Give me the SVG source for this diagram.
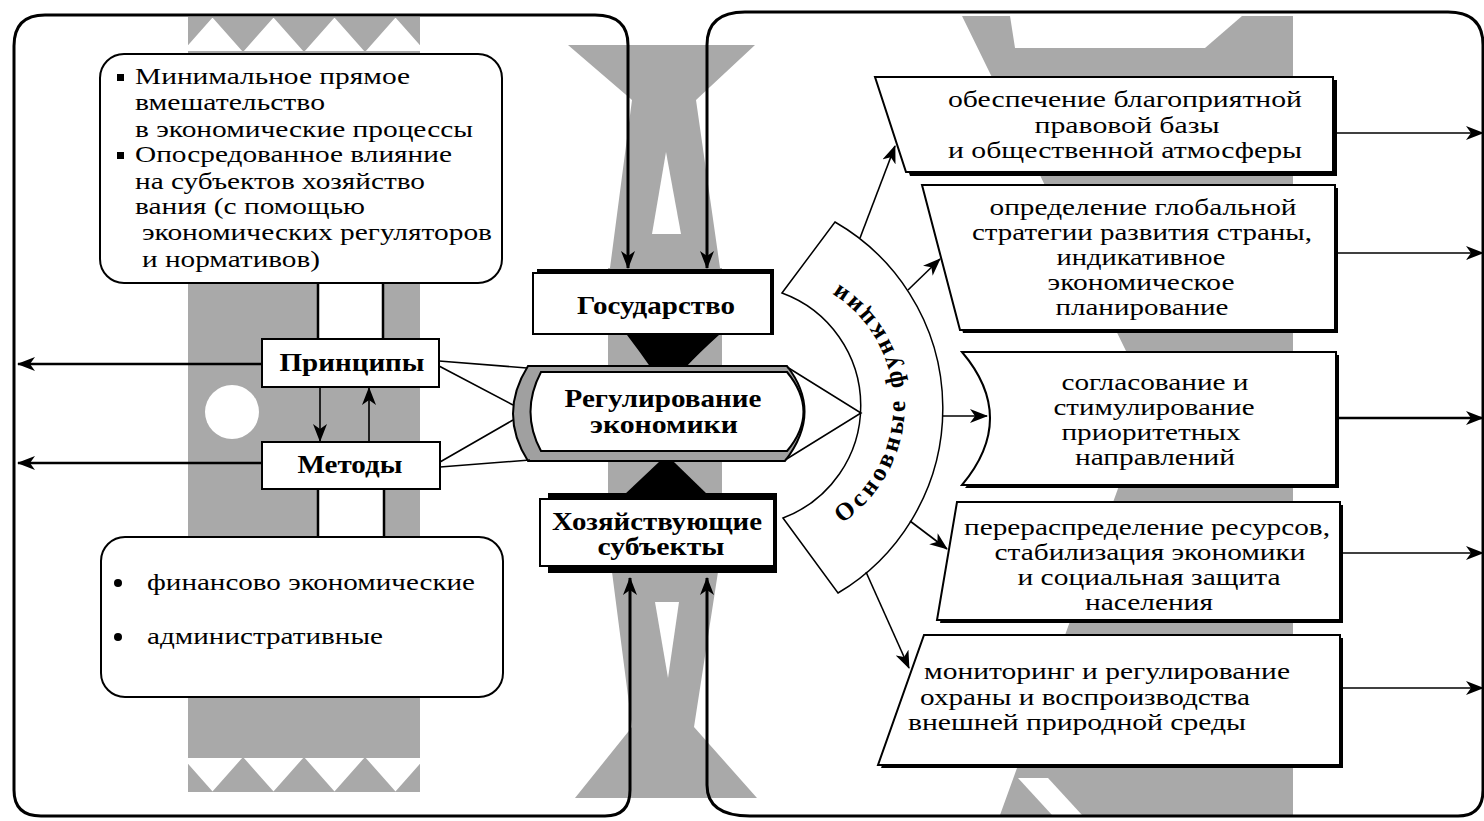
<svg xmlns="http://www.w3.org/2000/svg" width="1484" height="821" viewBox="0 0 1484 821">
<style>
.t{font-family:"Liberation Serif","Times New Roman",serif;font-size:24px;fill:#000}
.m{text-anchor:middle}
.b{font-family:"Liberation Serif","Times New Roman",serif;font-size:25px;font-weight:bold;fill:#000;text-anchor:middle}
.ln{fill:none;stroke:#000;stroke-width:1.6}
.lk{fill:none;stroke:#000;stroke-width:2.5}
.fr{fill:none;stroke:#000;stroke-width:3}
.box{fill:#fff;stroke:#000;stroke-width:2}
.g{fill:#a9a9a9}
.w{fill:#fff}
.k{fill:#000}
</style>
<defs>
<marker id="ah" markerUnits="userSpaceOnUse" viewBox="0 0 18 14" markerWidth="18" markerHeight="14" refX="17" refY="7" orient="auto-start-reverse">
<path d="M0,0 L18,7 L0,14 L5,7 Z" fill="#000"/>
</marker>
<clipPath id="lb"><rect x="188" y="17" width="232" height="775"/></clipPath>
<path id="arcText" d="M829,531A143,143 0 0 0 822,275" fill="none"/>
</defs>
<rect width="1484" height="821" fill="#fff"/>

<g id="backdrop">
 <g clip-path="url(#lb)">
  <rect class="g" x="188" y="51" width="232" height="707"/>
  <path class="g" d="M151,17H213L182,52ZM212,17H274L243,52ZM273,17H335L304,52ZM334,17H396L365,52ZM395,17H457L426,52Z"/>
  <path class="g" d="M151,792H213L182,757ZM212,792H274L243,757ZM273,792H335L304,757ZM334,792H396L365,757ZM395,792H457L426,757Z"/>
 </g>
 <circle class="w" cx="232" cy="412" r="27"/>
 <path class="g" d="M568,45H755L696,100L720,268H610L632,100Z"/>
 <path class="w" d="M666,152L681,234H652Z"/>
 <rect class="g" x="608" y="268" width="114" height="232"/>
 <path class="g" d="M612,572H718L694,727L757,798H575L632,727Z"/>
 <path class="w" d="M655,602H679L668,678Z"/>
 <path class="g" d="M962,16H1293V815H1000L1150,400Z"/>
 <path class="w" d="M1010,16H1242L1205,48H1015Z"/>
 <path class="w" d="M1018,778H1048L1082,815H1052Z"/>
 <path class="k" d="M627,335H719Q700,352 685,368H651Q640,352 627,335Z"/>
 <path class="k" d="M660,461H673L708,495H624Z"/>
</g>

<g id="links">
 <rect class="w" x="318" y="283" width="65" height="57"/>
 <path class="lk" d="M318,283V340M383,283V340"/>
 <rect class="w" x="318" y="488" width="66" height="49"/>
 <path class="lk" d="M318,488V537M384,488V537"/>
</g>

<g id="principles-text">
 <rect class="box" x="100" y="54" width="402" height="229" rx="24" stroke-width="2.5"/>
 <rect class="k" x="117" y="74" width="7" height="7"/>
 <rect class="k" x="117" y="152" width="7" height="7"/>
 <text class="t" x="135" y="84" textLength="275" lengthAdjust="spacingAndGlyphs">Минимальное прямое</text>
 <text class="t" x="135" y="110" textLength="190" lengthAdjust="spacingAndGlyphs">вмешательство</text>
 <text class="t" x="135" y="137" textLength="338" lengthAdjust="spacingAndGlyphs">в экономические процессы</text>
 <text class="t" x="135" y="162" textLength="317" lengthAdjust="spacingAndGlyphs">Опосредованное влияние</text>
 <text class="t" x="135" y="189" textLength="290" lengthAdjust="spacingAndGlyphs">на субъектов хозяйство</text>
 <text class="t" x="135" y="214" textLength="230" lengthAdjust="spacingAndGlyphs">вания (с помощью</text>
 <text class="t" x="142" y="240" textLength="350" lengthAdjust="spacingAndGlyphs">экономических регуляторов</text>
 <text class="t" x="142" y="267" textLength="178" lengthAdjust="spacingAndGlyphs">и нормативов)</text>
</g>

<g id="principles">
 <rect class="box" x="262" y="339" width="177" height="48"/>
 <text class="b" x="352" y="371" textLength="145" lengthAdjust="spacingAndGlyphs">Принципы</text>
</g>

<g id="methods">
 <rect class="box" x="262" y="442" width="178" height="47"/>
 <text class="b" x="350" y="473" textLength="105" lengthAdjust="spacingAndGlyphs">Методы</text>
</g>

<g id="methods-text">
 <rect class="box" x="101" y="537" width="402" height="160" rx="24" stroke-width="2.5"/>
 <circle class="k" cx="118" cy="583" r="4"/>
 <circle class="k" cx="118" cy="637" r="4"/>
 <text class="t" x="147" y="590" textLength="328" lengthAdjust="spacingAndGlyphs">финансово экономические</text>
 <text class="t" x="147" y="644" textLength="236" lengthAdjust="spacingAndGlyphs">административные</text>
</g>

<g id="state">
 <rect class="k" x="537" y="269" width="237" height="66"/>
 <rect class="box" x="533" y="273" width="238" height="61" stroke-width="1.5"/>
 <text class="b" x="656" y="314" textLength="158" lengthAdjust="spacingAndGlyphs">Государство</text>
</g>

<g id="regulation">
 <path d="M528,366H787Q823,412 785,461H528Q498,414 528,366Z" fill="#a0a0a0" stroke="#000" stroke-width="2"/>
 <path d="M541,372H787Q820,412 787,451H541Q520,412 541,372Z" fill="#fff" stroke="#000" stroke-width="2"/>
 <text class="b" x="663" y="407" textLength="197" lengthAdjust="spacingAndGlyphs">Регулирование</text>
 <text class="b" x="664" y="433" textLength="148" lengthAdjust="spacingAndGlyphs">экономики</text>
</g>

<g id="entities">
 <rect class="k" x="548" y="493" width="229" height="80"/>
 <rect class="box" x="540" y="499" width="234" height="67" stroke-width="1.5"/>
 <text class="b" x="657" y="530" textLength="210" lengthAdjust="spacingAndGlyphs">Хозяйствующие</text>
 <text class="b" x="661" y="555" textLength="127" lengthAdjust="spacingAndGlyphs">субъекты</text>
</g>

<g id="functions">
 <path d="M835,222A215,215 0 0 1 838,593L783,518A120,120 0 0 0 782,293Z" fill="#fff" stroke="#000" stroke-width="1.5"/>
 <text class="b" font-size="26" letter-spacing="4"><textPath href="#arcText" startOffset="50%">Основные функции</textPath></text>
</g>

<g id="f1">
 <path class="k" d="M879,80H1337V176H910Z"/>
 <path class="box" d="M875,77H1333V172H906Z" stroke-width="1.5"/>
 <text class="t m" x="1125" y="107" textLength="354" lengthAdjust="spacingAndGlyphs">обеспечение благоприятной</text>
 <text class="t m" x="1127" y="133" textLength="185" lengthAdjust="spacingAndGlyphs">правовой базы</text>
 <text class="t m" x="1125" y="158" textLength="354" lengthAdjust="spacingAndGlyphs">и общественной атмосферы</text>
</g>

<g id="f2">
 <path class="k" d="M925,188H1338V333H963Z"/>
 <path class="box" d="M922,185H1335V330H960Z" stroke-width="1.5"/>
 <text class="t m" x="1143" y="215" textLength="307" lengthAdjust="spacingAndGlyphs">определение глобальной</text>
 <text class="t m" x="1142" y="240" textLength="340" lengthAdjust="spacingAndGlyphs">стратегии развития страны,</text>
 <text class="t m" x="1141" y="265" textLength="169" lengthAdjust="spacingAndGlyphs">индикативное</text>
 <text class="t m" x="1141" y="290" textLength="187" lengthAdjust="spacingAndGlyphs">экономическое</text>
 <text class="t m" x="1142" y="315" textLength="173" lengthAdjust="spacingAndGlyphs">планирование</text>
</g>

<g id="f3">
 <path class="k" d="M965,355H1339V488H965Q1021,421 965,355Z"/>
 <path class="box" d="M962,352H1336V485H962Q1018,418 962,352Z" stroke-width="1.5"/>
 <text class="t m" x="1155" y="390" textLength="187" lengthAdjust="spacingAndGlyphs">согласование и</text>
 <text class="t m" x="1154" y="415" textLength="201" lengthAdjust="spacingAndGlyphs">стимулирование</text>
 <text class="t m" x="1151" y="440" textLength="179" lengthAdjust="spacingAndGlyphs">приоритетных</text>
 <text class="t m" x="1155" y="465" textLength="160" lengthAdjust="spacingAndGlyphs">направлений</text>
</g>

<g id="f4">
 <path class="k" d="M960,505H1343V623H940Z"/>
 <path class="box" d="M957,502H1340V620H937Z" stroke-width="1.5"/>
 <text class="t m" x="1147" y="535" textLength="366" lengthAdjust="spacingAndGlyphs">перераспределение ресурсов,</text>
 <text class="t m" x="1150" y="560" textLength="311" lengthAdjust="spacingAndGlyphs">стабилизация экономики</text>
 <text class="t m" x="1149" y="585" textLength="263" lengthAdjust="spacingAndGlyphs">и социальная защита</text>
 <text class="t m" x="1149" y="610" textLength="128" lengthAdjust="spacingAndGlyphs">населения</text>
</g>

<g id="f5">
 <path class="k" d="M927,638H1343V768H881Z"/>
 <path class="box" d="M924,635H1340V765H878Z" stroke-width="1.5"/>
 <text class="t" x="924" y="679" textLength="366" lengthAdjust="spacingAndGlyphs">мониторинг и регулирование</text>
 <text class="t" x="920" y="705" textLength="330" lengthAdjust="spacingAndGlyphs">охраны и воспроизводства</text>
 <text class="t" x="908" y="730" textLength="338" lengthAdjust="spacingAndGlyphs">внешней природной среды</text>
</g>

<g id="connectors">
 <path class="fr" d="M628,268V45Q628,15 595,15H45Q14,15 14,46V790Q14,816 41,816H605Q630,816 630,790V578" marker-start="url(#ah)" marker-end="url(#ah)"/>
 <path class="fr" d="M707,268V45Q707,12 745,12H1448Q1483,12 1483,45V790Q1483,816 1458,816H750Q707,816 707,785V578" marker-start="url(#ah)" marker-end="url(#ah)"/>
 <path class="lk" d="M262,364H18" marker-end="url(#ah)"/>
 <path class="lk" d="M262,463H18" marker-end="url(#ah)"/>
 <path class="ln" d="M320,387V441" marker-end="url(#ah)"/>
 <path class="ln" d="M369,442V388" marker-end="url(#ah)"/>
 <path class="ln" d="M439,361L527,368M439,366L513,405M440,462L513,420M440,467L530,460"/>
 <path class="ln" d="M787,367L861,413L785,460"/>
 <path class="ln" d="M860,238L895,146" marker-end="url(#ah)"/>
 <path class="ln" d="M908,290L940,259" marker-end="url(#ah)"/>
 <path class="ln" d="M942,416H987" marker-end="url(#ah)"/>
 <path class="ln" d="M910,521L947,549" marker-end="url(#ah)"/>
 <path class="ln" d="M866,572L909,668" marker-end="url(#ah)"/>
 <path class="ln" d="M1334,133H1483" marker-end="url(#ah)"/>
 <path class="ln" d="M1335,253H1483" marker-end="url(#ah)"/>
 <path class="lk" d="M1336,418H1483" marker-end="url(#ah)"/>
 <path class="ln" d="M1340,553H1483" marker-end="url(#ah)"/>
 <path class="ln" d="M1340,688H1483" marker-end="url(#ah)"/>
</g>
</svg>
